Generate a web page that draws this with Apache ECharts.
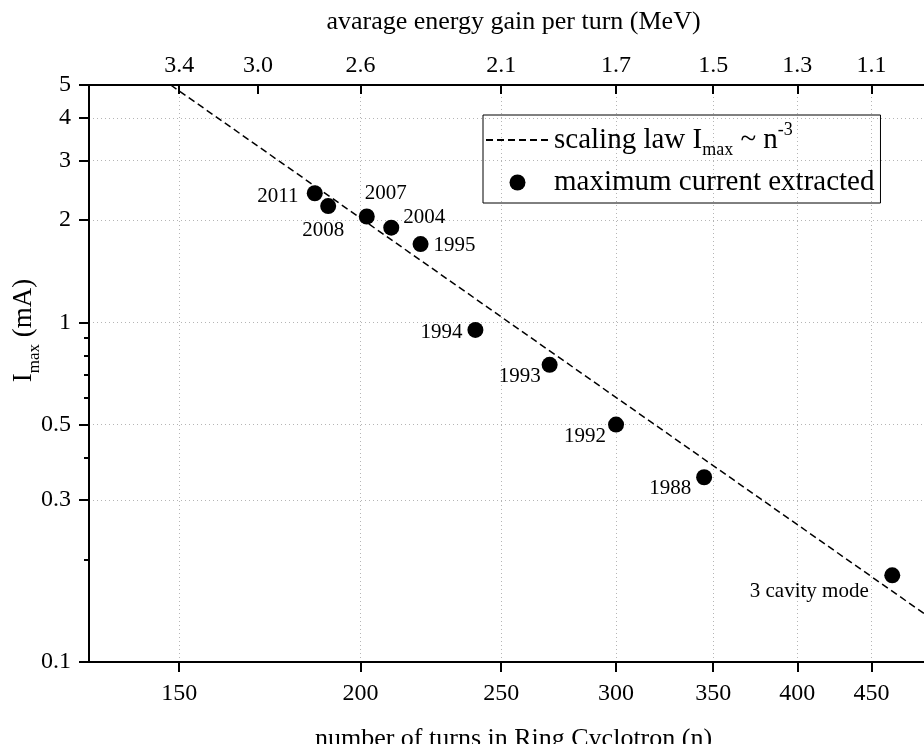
<!DOCTYPE html>
<html>
<head>
<meta charset="utf-8">
<script src="https://cdn.jsdelivr.net/npm/echarts@6/dist/echarts.min.js"></script>
<style>
html,body{margin:0;padding:0;background:#fff;}
#chart{width:924px;height:744px;}
</style>
</head>
<body>
<div id="chart"></div>
<script>
// ---- data ----
const turns      = [186, 190, 202, 210, 220, 240, 270, 300, 345, 465];
const currentMA  = [2.4, 2.2, 2.05, 1.9, 1.7, 0.95, 0.75, 0.5, 0.35, 0.18];
const pointNames = ['2011','2008','2007','2004','1995','1994','1993','1992','1988','3 cavity mode'];
const lawTurns   = [148, 500];
const lawCurrent = [5.0, 0.13];
const bottomTicks   = [150, 200, 250, 300, 350, 400, 450];
const topTickTurns  = [150, 170, 200, 250, 300, 350, 400, 450];
const topTickLabels = ['3.4','3.0','2.6','2.1','1.7','1.5','1.3','1.1'];
const yMajorTicks = [0.1, 0.3, 0.5, 1, 2, 3, 4, 5];
const yMinorTicks = [0.2, 0.4, 0.6, 0.7, 0.8, 0.9];
const seriesNames = ['scaling law Imax ~ n-3', 'maximum current extracted'];

// ---- styling (label placement relative to each point) ----
const labelOffsets = [[-37,3],[-5,24],[19,-23],[33,-10],[34,1],[-34,3],[-30,12],[-31,12],[-34,11],[-83,16]];

const FONT = "'Liberation Serif','Times New Roman',serif";
const chart = echarts.init(document.getElementById('chart'), null, {renderer:'canvas'});

const scatterData = turns.map((n, i) => ({
  value: [n, currentMA[i]],
  name: pointNames[i],
  label: {offset: labelOffsets[i]}
}));
const lawData = lawTurns.map((n, i) => [n, lawCurrent[i]]);

const axisLineStyle = {color:'#000', width:2};
const gridLine = {show:true, lineStyle:{color:'#b5b5b5', width:1, type:[1,3]}};

const option = {
  backgroundColor:'#fff',
  animation:false,
  grid:{left:89, top:85, right:-14, bottom:82, containLabel:false, outerBoundsMode:'none'},
  legend:{
    left:483, top:115, orient:'vertical',
    padding:[6,6,6,2], itemGap:9,
    itemWidth:63, itemHeight:16,
    borderColor:'#000', borderWidth:1,
    data: [
      {name: seriesNames[0], itemStyle:{opacity:0, color:'rgba(0,0,0,0)', borderWidth:0}},
      {name: seriesNames[1]}
    ],
    formatter: function(name){
      if (name === seriesNames[0]) return '{m|scaling law I}{s|max}{m| ~ n}{u|-3}';
      return '{m|' + name + '}';
    },
    textStyle:{
      fontFamily:FONT, fontSize:29, color:'#000',
      rich:{
        m:{fontFamily:FONT, fontSize:29, color:'#000', lineHeight:38},
        s:{fontFamily:FONT, fontSize:18, color:'#000', verticalAlign:'bottom'},
        u:{fontFamily:FONT, fontSize:18, color:'#000', verticalAlign:'top'}
      }
    }
  },
  xAxis:[{
    type:'log', logBase:10, min:130, max:500, position:'bottom',
    name:'number of turns in Ring Cyclotron (n)', nameLocation:'middle', nameGap:64,
    nameTextStyle:{fontFamily:FONT, fontSize:26, color:'#000'},
    axisLine:{show:true, lineStyle:axisLineStyle},
    axisTick:{show:true, inside:false, length:10, lineStyle:{color:'#000', width:2}, customValues:bottomTicks},
    axisLabel:{fontFamily:FONT, fontSize:24, color:'#000', margin:20, customValues:bottomTicks},
    minorTick:{show:false},
    splitLine:gridLine
  },{
    type:'log', logBase:10, min:130, max:500, position:'top',
    name:'avarage energy gain per turn (MeV)', nameLocation:'middle', nameGap:50,
    nameTextStyle:{fontFamily:FONT, fontSize:26, color:'#000'},
    axisLine:{show:true, lineStyle:axisLineStyle},
    axisTick:{show:true, inside:true, length:9, lineStyle:{color:'#000', width:2}, customValues:topTickTurns},
    axisLabel:{fontFamily:FONT, fontSize:24, color:'#000', margin:7, customValues:topTickTurns,
      formatter:function(v){ const i = topTickTurns.indexOf(Math.round(v)); return i >= 0 ? topTickLabels[i] : ''; }},
    splitLine:{show:false}
  }],
  yAxis:[{
    type:'log', logBase:10, min:0.1, max:5, position:'left',
    axisLine:{show:true, lineStyle:axisLineStyle},
    axisTick:{show:true, inside:false, length:10, lineStyle:{color:'#000', width:2}, customValues:yMajorTicks},
    axisLabel:{fontFamily:FONT, fontSize:24, color:'#000', margin:18, customValues:yMajorTicks},
    splitLine:gridLine
  },{
    type:'log', logBase:10, min:0.1, max:5, position:'left', offset:0,
    name:'{m|I}{s|max}{m| (mA)}', nameLocation:'middle', nameGap:46, nameRotate:90,
    nameMoveOverlap:false,
    nameTextStyle:{fontFamily:FONT, fontSize:27, color:'#000', padding:[0,0,0,86],
      rich:{
        m:{fontFamily:FONT, fontSize:27, color:'#000', lineHeight:38},
        s:{fontFamily:FONT, fontSize:17, color:'#000', verticalAlign:'bottom'}
      }},
    axisLine:{show:false},
    axisTick:{show:true, inside:false, length:5, lineStyle:{color:'#000', width:2}, customValues:yMinorTicks},
    axisLabel:{show:false, customValues:yMinorTicks},
    splitLine:{show:false}
  }],
  series:[{
    name:seriesNames[0], type:'line', xAxisIndex:0, yAxisIndex:0,
    data:lawData, symbol:'none', showSymbol:false, clip:true,
    lineStyle:{color:'#000', width:1.5, type:[7,4]},
    itemStyle:{color:'#000'}, z:3
  },{
    name:seriesNames[1], type:'scatter', xAxisIndex:0, yAxisIndex:0,
    data:scatterData, symbol:'circle', symbolSize:16,
    itemStyle:{color:'#000', opacity:1},
    label:{show:true, position:'inside', formatter:'{b}', color:'#000', opacity:1,
      fontFamily:FONT, fontSize:21, align:'center', verticalAlign:'middle'},
    z:4
  }]
};
chart.setOption(option);
</script>
</body>
</html>
